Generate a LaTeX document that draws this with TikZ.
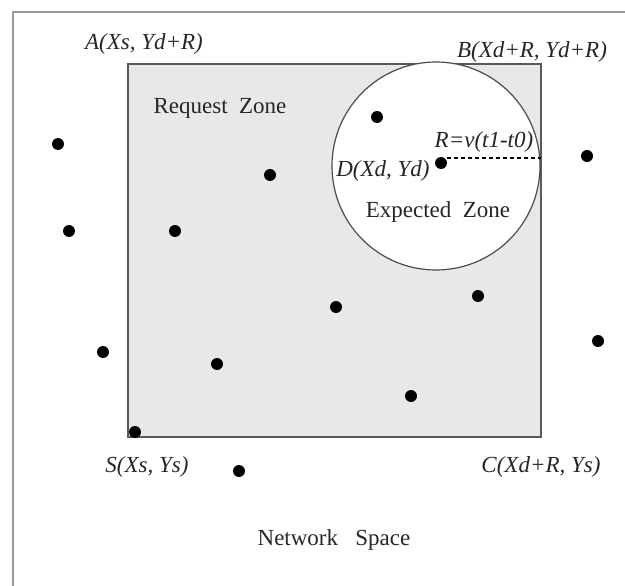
\documentclass[tikz,border=0pt]{standalone}
\usepackage{fontspec}
\setmainfont{Liberation Serif}
\begin{document}
\begin{tikzpicture}[x=1pt,y=-1pt,
  node/.style={circle,fill=black,inner sep=0pt,minimum size=12pt},
  lbl/.style={text=black!85,font=\fontsize{23}{25}\selectfont\itshape,inner sep=0pt},
  zone/.style={text=black!85,font=\fontsize{23}{25}\selectfont,inner sep=0pt}]
  \useasboundingbox (0,0) rectangle (625,586);
  % outer frame of the network space
  \draw[black!40,line width=2pt] (13,600) -- (13,12) -- (640,12);
  % request zone
  \coordinate (rzA) at (128,64);
  \coordinate (rzC) at (541,437);
  \draw[fill=black!9,draw=black!65,line width=1.2pt] (rzA) rectangle (rzC);
  % expected zone
  \node[circle,draw=black!70,fill=white,line width=1.2pt,minimum size=208pt,inner sep=0pt] (ez) at (436,166) {};
  % nodes
  \node[node] (n1) at (58,144) {};
  \node[node] (n2) at (69,231) {};
  \node[node] (n3) at (103,352) {};
  \node[node] (S) at (135,432) {};
  \node[node] (n5) at (175,231) {};
  \node[node] (n6) at (217,364) {};
  \node[node] (n7) at (239,471) {};
  \node[node] (n8) at (270,175) {};
  \node[node] (n9) at (336,307) {};
  \node[node] (n10) at (377,117) {};
  \node[node] (n11) at (411,396) {};
  \node[node] (D) at (441,163) {};
  \node[node] (n13) at (478,296) {};
  \node[node] (n14) at (587,156) {};
  \node[node] (n15) at (598,341) {};
  % radius of the expected zone
  \coordinate (rEnd) at (541,158);
  \draw[line width=1.4pt,dash pattern=on 4pt off 3pt] (D.east |- rEnd) -- (rEnd);
  % labels
  \node[lbl] (lA) at (144,44) {A(Xs, Yd+R)};
  \node[lbl] (lB) at (532,52) {B(Xd+R, Yd+R)};
  \node[lbl] (lR) at (484,142) {R=v(t1-t0)};
  \node[lbl] (lD) at (383,171) {D(Xd, Yd)};
  \node[lbl] (lS) at (147,467) {S(Xs, Ys)};
  \node[lbl] (lC) at (541,467) {C(Xd+R, Ys)};
  \node[zone] (lRZ) at (220,108) {Request\ \ Zone};
  \node[zone] (lEZ) at (438,212) {Expected\ \ Zone};
  \node[zone] (lNS) at (334,540) {Network\ \ \ Space};
\end{tikzpicture}
\end{document}
